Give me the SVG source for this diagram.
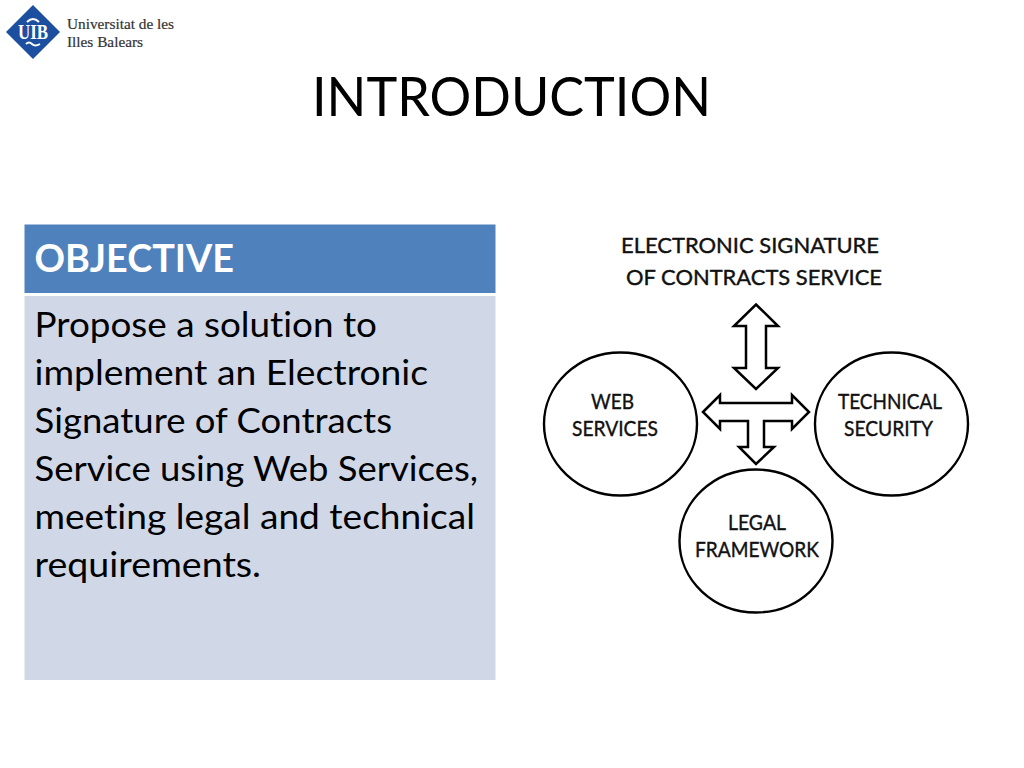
<svg xmlns="http://www.w3.org/2000/svg" width="1024" height="768" viewBox="0 0 1024 768">
<style>
text{font-family:Lato,"Open Sans","Liberation Sans",sans-serif;font-variant-ligatures:none}
.c{font-size:22px;fill:#111;stroke:#111;stroke-width:.4}
.b{font-size:35px;fill:#000}
.s{fill:#fff;stroke:#000;stroke-width:2.4}
.a{fill:#fff;stroke:#000;stroke-width:2.5;stroke-linejoin:miter}
.l{font-size:14.5px;fill:#333;stroke:#333;stroke-width:.2}
text.l,text.u{font-family:"Liberation Serif",serif}
</style>
<rect width="1024" height="768" fill="#fff"/>
<g id="logo">
<polygon points="33,5 60,32 33,59 6,32" fill="#1c4f9f"/>
<text class="u" x="18" y="39" style="font-size:20px;font-weight:700;fill:#fff" textLength="30" lengthAdjust="spacingAndGlyphs">UIB</text>
<path d="M27,22Q33,16 39,22" fill="none" stroke="#fff" stroke-width="2"/>
<path d="M26,44Q29,41 32,44T40,44" fill="none" stroke="#fff" stroke-width="2"/>
<text class="l" x="67" y="29" textLength="107" lengthAdjust="spacingAndGlyphs">Universitat de les</text>
<text class="l" x="67" y="47" textLength="76" lengthAdjust="spacingAndGlyphs">Illes Balears</text>
</g>
<text x="312" y="116" style="font-size:55px;fill:#000" textLength="399" lengthAdjust="spacingAndGlyphs">INTRODUCTION</text>
<g id="objective-header">
<rect x="24.5" y="224.5" width="471" height="68.5" fill="#4f81bd"/>
<text x="34.5" y="272" style="font-size:38px;font-weight:700;fill:#fff" textLength="199.5" lengthAdjust="spacingAndGlyphs">OBJECTIVE</text>
</g>
<g id="objective-body">
<rect x="24.5" y="296" width="471" height="384" fill="#d0d8e8"/>
<text class="b" x="34.5" y="337" textLength="342.5" lengthAdjust="spacingAndGlyphs">Propose a solution to</text>
<text class="b" x="34.5" y="385" textLength="393.5" lengthAdjust="spacingAndGlyphs">implement an Electronic</text>
<text class="b" x="34.5" y="433" textLength="357.5" lengthAdjust="spacingAndGlyphs">Signature of Contracts</text>
<text class="b" x="34.5" y="481" textLength="443.5" lengthAdjust="spacingAndGlyphs">Service using Web Services,</text>
<text class="b" x="34.5" y="529" textLength="440.5" lengthAdjust="spacingAndGlyphs">meeting legal and technical</text>
<text class="b" x="34.5" y="577" textLength="226.5" lengthAdjust="spacingAndGlyphs">requirements.</text>
</g>
<g id="service">
<text class="c" x="621" y="253" textLength="258" lengthAdjust="spacingAndGlyphs">ELECTRONIC SIGNATURE</text>
<text class="c" x="626" y="285" textLength="256" lengthAdjust="spacingAndGlyphs">OF CONTRACTS SERVICE</text>
</g>
<g id="connectors">
<polygon class="a" points="756,304.5 778,326 766,326 766,368 778,368 756,389 734,368 746,368 746,326 734,326"/>
<polygon class="a" points="703,412 720,395 720,403 792,403 792,395 809,412 792,429 792,421 764,421 764,447 774,447 756,464 739,447 748,447 748,421 720,421 720,429"/>
</g>
<g id="web-services">
<ellipse class="s" cx="620.5" cy="424" rx="76.5" ry="71.5"/>
<text class="c" x="591" y="409" textLength="43" lengthAdjust="spacingAndGlyphs">WEB</text>
<text class="c" x="572" y="436" textLength="86" lengthAdjust="spacingAndGlyphs">SERVICES</text>
</g>
<g id="technical-security">
<ellipse class="s" cx="891.5" cy="424" rx="76.5" ry="71.5"/>
<text class="c" x="838" y="409" textLength="104" lengthAdjust="spacingAndGlyphs">TECHNICAL</text>
<text class="c" x="844" y="436" textLength="89" lengthAdjust="spacingAndGlyphs">SECURITY</text>
</g>
<g id="legal-framework">
<ellipse class="s" cx="756" cy="541" rx="76.5" ry="71.5"/>
<text class="c" x="728" y="530" textLength="58" lengthAdjust="spacingAndGlyphs">LEGAL</text>
<text class="c" x="695" y="557" textLength="124" lengthAdjust="spacingAndGlyphs">FRAMEWORK</text>
</g>
</svg>
